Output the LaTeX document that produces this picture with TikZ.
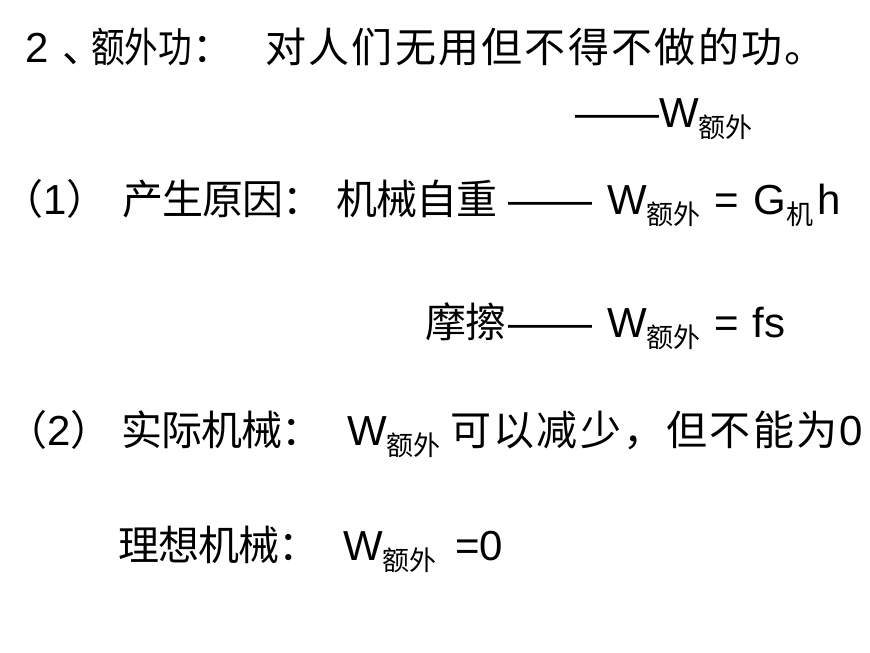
\documentclass[tikz,border=0pt]{standalone}
\usepackage{graphicx}
\usepackage{fontspec}
\setmainfont{Liberation Sans}
\newfontfamily\cjk{Noto Sans CJK SC}
\newcommand\zh[1]{{\cjk\fontsize{41}{48}\selectfont #1}}
\newcommand\zhtrack[2]{{\cjk\fontsize{41}{48}\selectfont\def\trackkern{#1}\trackloop#2\relax}}
\def\trackloop#1{\ifx\relax#1\else#1\kern\trackkern\relax\expandafter\trackloop\fi}
\newcommand\ewai{\raisebox{-10pt}{\cjk\fontsize{27}{27}\selectfont 额外}}
\newcommand\jisub{\raisebox{-10pt}{\cjk\fontsize{27}{27}\selectfont 机}}
\begin{document}
\begin{tikzpicture}[x=1pt,y=-1pt,
  zeile/.style={anchor=base west,inner sep=0pt,font=\fontsize{42}{50}\selectfont}]
\useasboundingbox (0,0) rectangle (870,653);
\node[zeile] (nr) at (25,62) {2};
\node[zeile] (komma) at (62,62) {\zh{、}};
\node[zeile] (begriff) at (91,62) {\scalebox{0.82}[1]{\zh{额外功}}};
\node[zeile] (doppel) at (192,62) {\zh{：}};
\node[zeile] (definition) at (265,62) {\zhtrack{2.3pt}{对人们无用但不得不做的功。}};
\node[zeile] (symbol) at (575,127) {——W\ewai};
\node[zeile] (punkt1) at (2,214) {\zh{（}1\zh{）}};
\node[zeile] (ursache) at (122,214) {\zhtrack{-1pt}{产生原因：}};
\node[zeile] (eigen) at (336,214) {\zhtrack{-1pt}{机械自重}};
\node[zeile] (strich1) at (508,214) {——};
\node[zeile] (formel1) at (607,214) {W\ewai\kern2pt{} = \kern3pt G\jisub\kern4pt h};
\node[zeile] (reibung) at (425,337) {\zhtrack{-1pt}{摩擦}};
\node[zeile] (strich2) at (508,337) {——};
\node[zeile] (formel2) at (607,337) {W\ewai\kern2pt{} = \kern2pt fs};
\node[zeile] (punkt2) at (6,445) {\zh{（}2\zh{）}};
\node[zeile] (real) at (121,445) {\zhtrack{-1pt}{实际机械：}};
\node[zeile] (wreal) at (347,445) {W\ewai};
\node[zeile] (kann) at (450,445) {\zhtrack{2.3pt}{可以减少，但不能为}0};
\node[zeile] (ideal) at (118,560) {\zhtrack{-1pt}{理想机械：}};
\node[zeile] (wideal) at (343,560) {W\ewai};
\node[zeile] (null) at (455,560) {=0};
\end{tikzpicture}
\end{document}
